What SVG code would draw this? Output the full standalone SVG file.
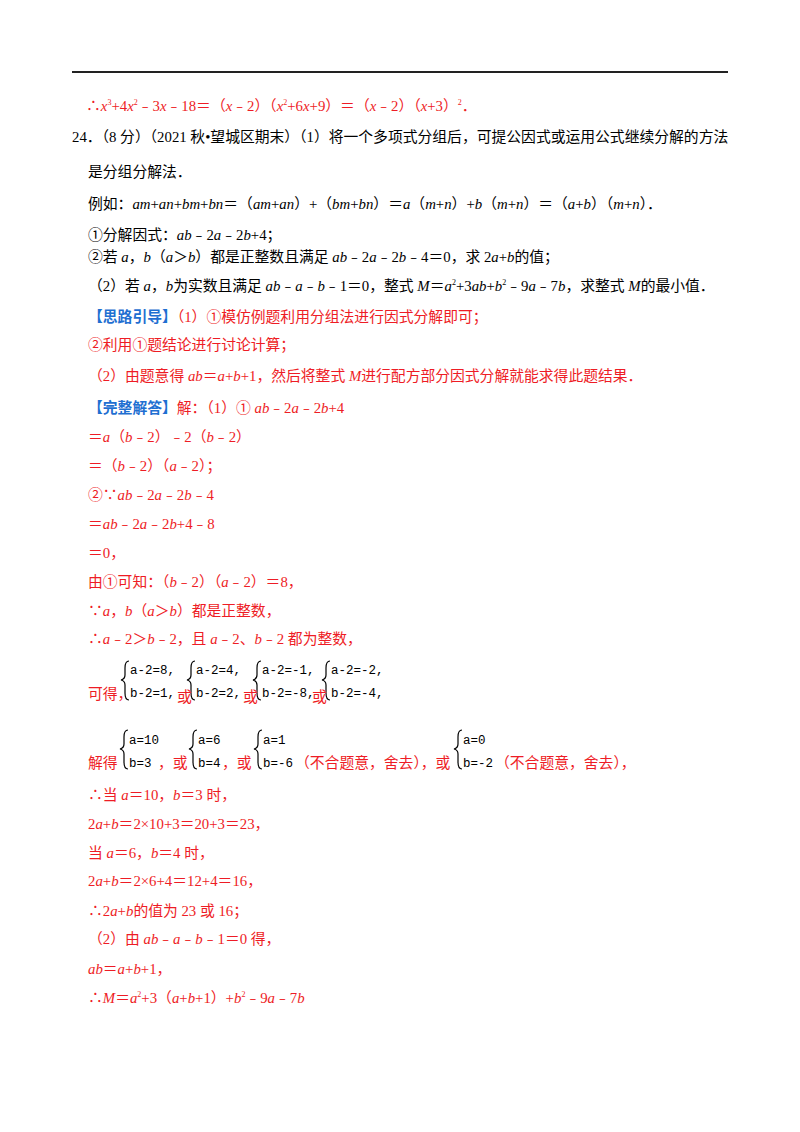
<svg xmlns="http://www.w3.org/2000/svg" width="800" height="1132" viewBox="0 0 800 1132">
<style>
text{font-family:"Liberation Serif","Noto Sans CJK SC",serif;font-size:14.8px;fill:#000}
.r{fill:#ee1c25}
.b{fill:#1f6fd1;font-weight:bold}
.i{font-style:italic}
.s{font-size:8px}
text.m{font-family:"Liberation Mono","DejaVu Sans Mono",monospace;font-size:12.5px;fill:#000}
.br{fill:none;stroke:#000;stroke-width:1.2}
</style>
<rect width="800" height="1132" fill="#fff"/>
<line x1="72" y1="72" x2="728" y2="72" stroke="#222" stroke-width="2"/>
<text x="86" y="111" class="r">∴<tspan class="i">x</tspan><tspan class="s" dy="-6">3</tspan><tspan dy="6">+4</tspan><tspan class="i">x</tspan><tspan class="s" dy="-6">2</tspan><tspan dy="6">﹣3</tspan><tspan class="i">x</tspan>﹣18＝（<tspan class="i">x</tspan>﹣2）（<tspan class="i">x</tspan><tspan class="s" dy="-6">2</tspan><tspan dy="6">+6</tspan><tspan class="i">x</tspan>+9）＝（<tspan class="i">x</tspan>﹣2）（<tspan class="i">x</tspan>+3）<tspan class="s" dy="-6">2</tspan><tspan dy="6">．</tspan></text>
<text x="72" y="142">24．（8 分）（2021 秋•望城区期末）（1）将一个多项式分组后，可提公因式或运用公式继续分解的方法</text>
<text x="88" y="177">是分组分解法．</text>
<text x="88" y="209">例如：<tspan class="i">am</tspan>+<tspan class="i">an</tspan>+<tspan class="i">bm</tspan>+<tspan class="i">bn</tspan>＝（<tspan class="i">am</tspan>+<tspan class="i">an</tspan>）+（<tspan class="i">bm</tspan>+<tspan class="i">bn</tspan>）＝<tspan class="i">a</tspan>（<tspan class="i">m</tspan>+<tspan class="i">n</tspan>）+<tspan class="i">b</tspan>（<tspan class="i">m</tspan>+<tspan class="i">n</tspan>）＝（<tspan class="i">a</tspan>+<tspan class="i">b</tspan>）（<tspan class="i">m</tspan>+<tspan class="i">n</tspan>）．</text>
<text x="88" y="240">①分解因式：<tspan class="i">ab</tspan>﹣2<tspan class="i">a</tspan>﹣2<tspan class="i">b</tspan>+4；</text>
<text x="88" y="262">②若 <tspan class="i">a</tspan>，<tspan class="i">b</tspan>（<tspan class="i">a</tspan>＞<tspan class="i">b</tspan>）都是正整数且满足 <tspan class="i">ab</tspan>﹣2<tspan class="i">a</tspan>﹣2<tspan class="i">b</tspan>﹣4＝0，求 2<tspan class="i">a</tspan>+<tspan class="i">b</tspan>的值；</text>
<text x="88" y="291">（2）若 <tspan class="i">a</tspan>，<tspan class="i">b</tspan>为实数且满足 <tspan class="i">ab</tspan>﹣<tspan class="i">a</tspan>﹣<tspan class="i">b</tspan>﹣1＝0，整式 <tspan class="i">M</tspan>＝<tspan class="i">a</tspan><tspan class="s" dy="-6">2</tspan><tspan dy="6">+3</tspan><tspan class="i">ab</tspan>+<tspan class="i">b</tspan><tspan class="s" dy="-6">2</tspan><tspan dy="6">﹣9</tspan><tspan class="i">a</tspan>﹣7<tspan class="i">b</tspan>，求整式 <tspan class="i">M</tspan>的最小值．</text>
<text x="88" y="322"><tspan class="b">【思路引导】</tspan><tspan class="r">（1）①模仿例题利用分组法进行因式分解即可；</tspan></text>
<text x="88" y="350" class="r">②利用①题结论进行讨论计算；</text>
<text x="88" y="381" class="r">（2）由题意得 <tspan class="i">ab</tspan>＝<tspan class="i">a</tspan>+<tspan class="i">b</tspan>+1，然后将整式 <tspan class="i">M</tspan>进行配方部分因式分解就能求得此题结果．</text>
<text x="88" y="413"><tspan class="b">【完整解答】</tspan><tspan class="r">解：（1）① <tspan class="i">ab</tspan>﹣2<tspan class="i">a</tspan>﹣2<tspan class="i">b</tspan>+4</tspan></text>
<text x="88" y="442" class="r">＝<tspan class="i">a</tspan>（<tspan class="i">b</tspan>﹣2）﹣2（<tspan class="i">b</tspan>﹣2）</text>
<text x="88" y="471" class="r">＝（<tspan class="i">b</tspan>﹣2）（<tspan class="i">a</tspan>﹣2）；</text>
<text x="88" y="500" class="r">②∵<tspan class="i">ab</tspan>﹣2<tspan class="i">a</tspan>﹣2<tspan class="i">b</tspan>﹣4</text>
<text x="88" y="529" class="r">＝<tspan class="i">ab</tspan>﹣2<tspan class="i">a</tspan>﹣2<tspan class="i">b</tspan>+4﹣8</text>
<text x="88" y="558" class="r">＝0，</text>
<text x="88" y="587" class="r">由①可知：（<tspan class="i">b</tspan>﹣2）（<tspan class="i">a</tspan>﹣2）＝8，</text>
<text x="88" y="616" class="r">∵<tspan class="i">a</tspan>，<tspan class="i">b</tspan>（<tspan class="i">a</tspan>＞<tspan class="i">b</tspan>）都是正整数，</text>
<text x="88" y="644" class="r">∴<tspan class="i">a</tspan>﹣2＞<tspan class="i">b</tspan>﹣2，且 <tspan class="i">a</tspan>﹣2、<tspan class="i">b</tspan>﹣2 都为整数，</text>
<g id="sys1">
<path class="br" d="M129,661 Q125,661 125,668 L125,675 Q125,679 121,680 Q125,681 125,685 L125,693 Q125,700 129,700"/>
<path class="br" d="M195,661 Q191,661 191,668 L191,675 Q191,679 187,680 Q191,681 191,685 L191,693 Q191,700 195,700"/>
<path class="br" d="M261,661 Q257,661 257,668 L257,675 Q257,679 253,680 Q257,681 257,685 L257,693 Q257,700 261,700"/>
<path class="br" d="M330,661 Q326,661 326,668 L326,675 Q326,679 322,680 Q326,681 326,685 L326,693 Q326,700 330,700"/>
<text x="130" y="674" class="m">a-2=8,</text><text x="130" y="697" class="m">b-2=1,</text>
<text x="196" y="674" class="m">a-2=4,</text><text x="196" y="697" class="m">b-2=2,</text>
<text x="262" y="674" class="m">a-2=-1,</text><text x="262" y="697" class="m">b-2=-8,</text>
<text x="331" y="674" class="m">a-2=-2,</text><text x="331" y="697" class="m">b-2=-4,</text>
<text x="88" y="699" class="r">可得，</text>
<text x="177" y="702" class="r">或</text>
<text x="243" y="702" class="r">或</text>
<text x="312" y="702" class="r">或</text>
</g>
<g id="sys2">
<path class="br" d="M128,730 Q124,730 124,737 L124,744 Q124,748 120,749 Q124,750 124,754 L124,762 Q124,769 128,769"/>
<path class="br" d="M197,730 Q193,730 193,737 L193,744 Q193,748 189,749 Q193,750 193,754 L193,762 Q193,769 197,769"/>
<path class="br" d="M262,730 Q258,730 258,737 L258,744 Q258,748 254,749 Q258,750 258,754 L258,762 Q258,769 262,769"/>
<path class="br" d="M462,730 Q458,730 458,737 L458,744 Q458,748 454,749 Q458,750 458,754 L458,762 Q458,769 462,769"/>
<text x="129" y="744" class="m">a=10</text><text x="129" y="767" class="m">b=3</text>
<text x="198" y="744" class="m">a=6</text><text x="198" y="767" class="m">b=4</text>
<text x="263" y="744" class="m">a=1</text><text x="263" y="767" class="m">b=-6</text>
<text x="463" y="744" class="m">a=0</text><text x="463" y="767" class="m">b=-2</text>
<text x="88" y="768" class="r">解得</text>
<text x="158" y="768" class="r">，或</text>
<text x="222" y="768" class="r">，或</text>
<text x="295" y="768" class="r">（不合题意，舍去），或</text>
<text x="495" y="768" class="r">（不合题意，舍去），</text>
</g>
<text x="88" y="800" class="r">∴当 <tspan class="i">a</tspan>＝10，<tspan class="i">b</tspan>＝3 时，</text>
<text x="88" y="829" class="r">2<tspan class="i">a</tspan>+<tspan class="i">b</tspan>＝2×10+3＝20+3＝23，</text>
<text x="88" y="858" class="r">当 <tspan class="i">a</tspan>＝6，<tspan class="i">b</tspan>＝4 时，</text>
<text x="88" y="886" class="r">2<tspan class="i">a</tspan>+<tspan class="i">b</tspan>＝2×6+4＝12+4＝16，</text>
<text x="88" y="916" class="r">∴2<tspan class="i">a</tspan>+<tspan class="i">b</tspan>的值为 23 或 16；</text>
<text x="88" y="944" class="r">（2）由 <tspan class="i">ab</tspan>﹣<tspan class="i">a</tspan>﹣<tspan class="i">b</tspan>﹣1＝0 得，</text>
<text x="88" y="974" class="r"><tspan class="i">ab</tspan>＝<tspan class="i">a</tspan>+<tspan class="i">b</tspan>+1，</text>
<text x="88" y="1003" class="r">∴<tspan class="i">M</tspan>＝<tspan class="i">a</tspan><tspan class="s" dy="-6">2</tspan><tspan dy="6">+3（</tspan><tspan class="i">a</tspan>+<tspan class="i">b</tspan>+1）+<tspan class="i">b</tspan><tspan class="s" dy="-6">2</tspan><tspan dy="6">﹣9</tspan><tspan class="i">a</tspan>﹣7<tspan class="i">b</tspan></text>
</svg>
